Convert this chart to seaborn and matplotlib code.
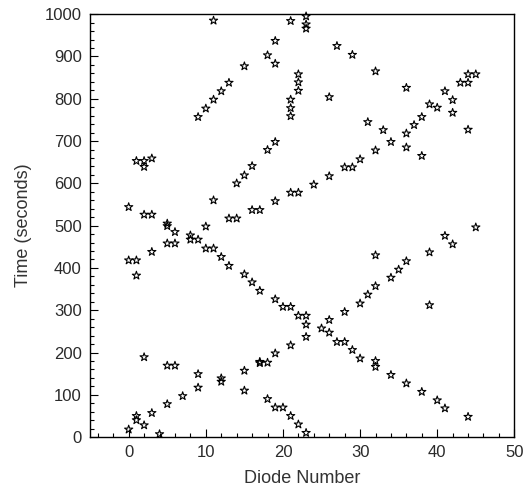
import matplotlib
matplotlib.use("Agg")
import matplotlib.pyplot as plt
import seaborn as sns
from matplotlib.ticker import MultipleLocator

# diode number / time pairs
diode_number = [
    0, 0, 0,
    1, 1, 1, 1, 1,
    2, 2, 2, 2, 2,
    3, 3, 3, 3,
    4,
    5, 5, 5, 5, 5,
    6, 6, 6,
    7,
    8, 8,
    9, 9, 9, 9,
    10, 10, 10,
    11, 11, 11, 11,
    12, 12, 12, 12,
    13, 13, 13,
    14, 14,
    15, 15, 15, 15, 15,
    16, 16, 16,
    17, 17, 17, 17,
    18, 18, 18, 18,
    19, 19, 19, 19, 19, 19, 19,
    20, 20,
    21, 21, 21, 21, 21, 21, 21, 21,
    22, 22, 22, 22, 22, 22,
    23, 23, 23, 23, 23, 23, 23,
    24,
    25,
    26, 26, 26, 26,
    27, 27,
    28, 28, 28,
    29, 29, 29,
    30, 30, 30,
    31, 31,
    32, 32, 32, 32, 32, 32,
    33,
    34, 34, 34,
    35,
    36, 36, 36, 36, 36,
    37,
    38, 38, 38,
    39, 39, 39,
    40, 40,
    41, 41, 41,
    42, 42, 42,
    43,
    44, 44, 44, 44,
    45, 45,
]
time_seconds = [
    18, 418, 544,
    40, 50, 382, 418, 653,
    28, 189, 526, 639, 653,
    57, 438, 526, 659,
    7,
    78, 169, 458, 499, 505,
    169, 458, 485,
    97,
    467, 477,
    117, 149, 467, 757,
    446, 498, 777,
    446, 560, 798, 985,
    131, 139, 426, 818,
    405, 517, 838,
    517, 600,
    110, 157, 385, 619, 877,
    366, 537, 641,
    175, 178, 346, 537,
    90, 176, 679, 903,
    70, 198, 326, 558, 698, 883, 937,
    70, 308,
    50, 217, 308, 578, 759, 778, 798, 984,
    30, 287, 578, 819, 839, 858,
    10, 237, 266, 287, 966, 976, 995,
    597,
    257,
    247, 277, 617, 804,
    225, 925,
    225, 296, 638,
    206, 638, 904,
    186, 316, 657,
    337, 745,
    166, 180, 357, 430, 678, 865,
    726,
    147, 377, 698,
    396,
    127, 416, 685, 718, 826,
    738,
    107, 665, 757,
    312, 437, 787,
    87, 779,
    68, 476, 818,
    456, 767, 797,
    838,
    48, 727, 838, 858,
    496, 858,
]

sns.set_style("white")
plt.rcParams["font.family"] = ["Liberation Sans", "DejaVu Sans"]

fig = plt.figure(figsize=(5.27, 4.90), dpi=100)
ax = fig.add_axes([0.171, 0.108, 0.805, 0.863])

sns.scatterplot(x=diode_number, y=time_seconds, ax=ax, marker="*", s=38,
                facecolor="none", edgecolor="black", linewidth=0.8,
                clip_on=False, legend=False)

ax.set_xlim(-5, 50)
ax.set_ylim(0, 1000)
ax.xaxis.set_major_locator(MultipleLocator(10))
ax.xaxis.set_minor_locator(MultipleLocator(2))
ax.yaxis.set_major_locator(MultipleLocator(100))
ax.yaxis.set_minor_locator(MultipleLocator(20))
ax.tick_params(which="both", direction="in", colors="black", labelcolor="#2a2a2a",
               labelsize=12, top=False, right=False, bottom=True, left=True)
ax.tick_params(which="major", length=6, width=0.8, pad=6)
ax.tick_params(which="minor", length=3, width=0.8)
for sp in ax.spines.values():
    sp.set_color("black")
    sp.set_linewidth(1.0)

ax.set_xlabel("Diode Number", fontsize=13, color="#333333", labelpad=7)
ax.set_ylabel("Time (seconds)", fontsize=13, color="#333333", labelpad=9)

fig.savefig("out.png", dpi=100)
